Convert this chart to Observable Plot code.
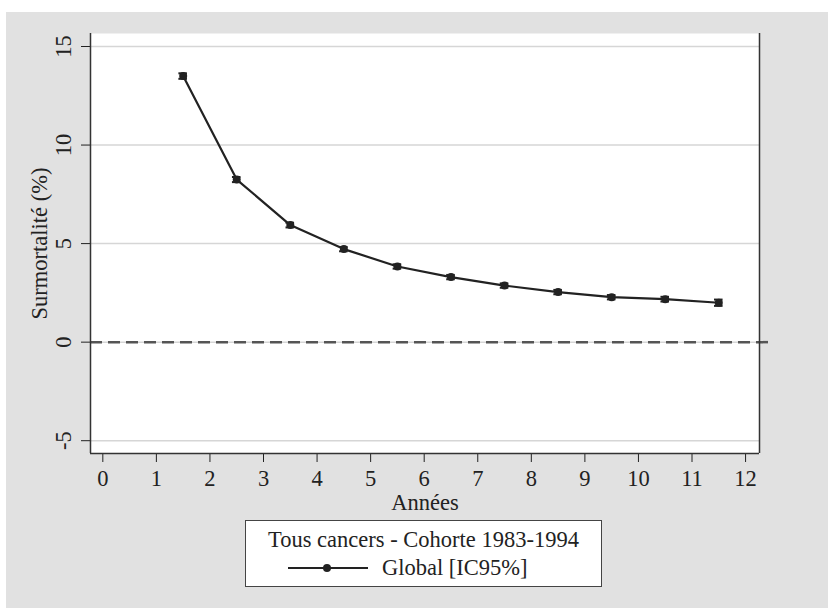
<!DOCTYPE html>
<html>
<head>
<meta charset="utf-8">
<script src="https://cdn.jsdelivr.net/npm/d3@7"></script>
<script src="https://cdn.jsdelivr.net/npm/@observablehq/plot@0.6"></script>
<style>
  html, body { margin: 0; padding: 0; background: #ffffff; }
  #page { position: relative; width: 828px; height: 608px; overflow: hidden; }
  #bg { position: absolute; left: 6px; top: 12px; right: 0; bottom: 0; background: #e1e1e1; }
  #chart { position: absolute; left: 0; top: 0; }
  #legend {
    position: absolute; left: 245px; top: 520px; width: 355px; height: 65px;
    background: #ffffff; border: 1.5px solid #444;
    font-family: "Liberation Serif", serif; font-size: 22.5px; color: #222;
  }
  #legend .title { position: absolute; left: 0; right: 0; top: 6px; text-align: center; white-space: nowrap; }
  #legend .item { position: absolute; left: 42px; top: 34px; white-space: nowrap; display: flex; align-items: center; }
  #legend .item svg { margin-right: 14px; }
</style>
</head>
<body>
<div id="page">
  <div id="bg"></div>
  <div id="chart"></div>
  <div id="legend"></div>
</div>
<script>
// Data
const annees = [1.5, 2.5, 3.5, 4.5, 5.5, 6.5, 7.5, 8.5, 9.5, 10.5, 11.5];
const surmortalite = [13.5, 8.25, 5.94, 4.72, 3.84, 3.30, 2.87, 2.54, 2.28, 2.18, 2.00];
const icBas = [13.36, 8.12, 5.82, 4.61, 3.73, 3.19, 2.76, 2.43, 2.17, 2.06, 1.84];
const icHaut = [13.64, 8.38, 6.06, 4.83, 3.95, 3.41, 2.98, 2.65, 2.39, 2.30, 2.16];
const xTicks = [0, 1, 2, 3, 4, 5, 6, 7, 8, 9, 10, 11, 12];
const yTicks = [-5, 0, 5, 10, 15];
const xDomain = [-0.23, 12.26];
const yDomain = [-5.65, 15.66];
const legendTitle = "Tous cancers - Cohorte 1983-1994";
const seriesName = "Global [IC95%]";

const data = annees.map((x, i) => ({x, y: surmortalite[i], lo: icBas[i], hi: icHaut[i]}));

const chart = Plot.plot({
  width: 828,
  height: 520,
  marginLeft: 90,
  marginRight: 69,
  marginTop: 33,
  marginBottom: 67,
  style: {background: "transparent", fontFamily: "'Liberation Serif', serif", fontSize: "22.5px", color: "#222"},
  x: {domain: xDomain},
  y: {domain: yDomain},
  marks: [
    Plot.frame({fill: "white", stroke: null}),
    Plot.gridY(yTicks, {stroke: "#d6d6d6", strokeOpacity: 1, strokeWidth: 1.5}),
    Plot.ruleY([0], {stroke: "#555", strokeWidth: 2.5, strokeDasharray: "12,6", insetRight: -9}),
    Plot.axisY(yTicks, {tickSize: 9, tickPadding: 11, tickRotate: -90, tickFormat: d => String(d), label: "Surmortalité (%)", labelAnchor: "center", labelArrow: "none", labelOffset: 59}),
    Plot.axisX(xTicks, {tickSize: 9, tickPadding: 8, tickFormat: d => String(d), label: "Années", labelAnchor: "center", labelArrow: "none", labelOffset: 56}),
    Plot.ruleX(xDomain, {stroke: "#333", strokeWidth: 1.5}),
    Plot.ruleY([yDomain[0]], {stroke: "#333", strokeWidth: 1.5}),
    Plot.line(data, {x: "x", y: "y", stroke: "#222", strokeWidth: 2.2}),
    Plot.ruleX(data, {x: "x", y1: "lo", y2: "hi", stroke: "#222", strokeWidth: 2}),
    Plot.ruleY(data, {y: "lo", x1: d => d.x - 0.08, x2: d => d.x + 0.08, stroke: "#222", strokeWidth: 2}),
    Plot.ruleY(data, {y: "hi", x1: d => d.x - 0.08, x2: d => d.x + 0.08, stroke: "#222", strokeWidth: 2}),
    Plot.dot(data, {x: "x", y: "y", r: 4, fill: "#222", stroke: null})
  ]
});
document.getElementById("chart").appendChild(chart);

const legend = document.getElementById("legend");
legend.innerHTML = `<div class="title">${legendTitle}</div>
<div class="item"><svg width="80" height="12"><line x1="0" y1="6" x2="80" y2="6" stroke="#222" stroke-width="2"/><circle cx="39" cy="6" r="4" fill="#222"/></svg><span>${seriesName}</span></div>`;
</script>
</body>
</html>
